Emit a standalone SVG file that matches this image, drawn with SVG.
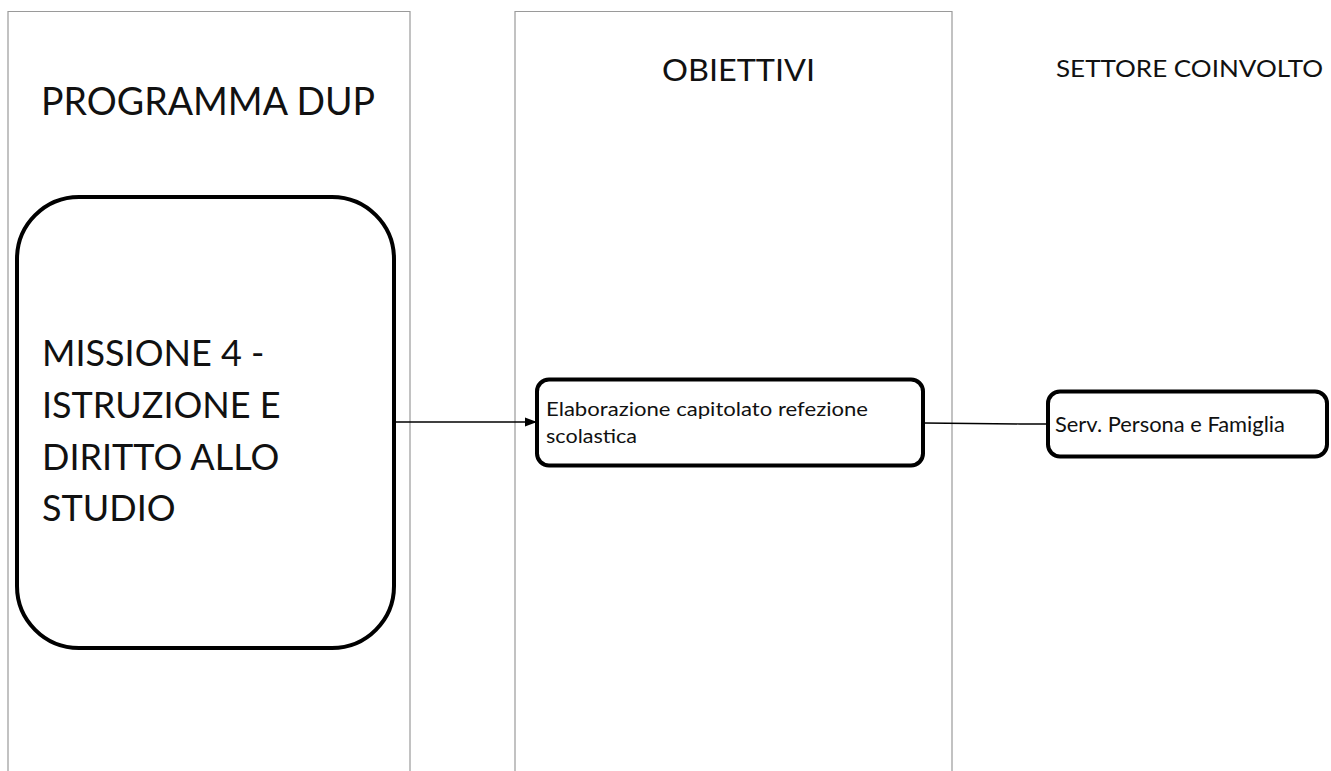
<svg xmlns="http://www.w3.org/2000/svg" width="1331" height="771" viewBox="0 0 1331 771">
  <style>
    .lane { fill: #ffffff; stroke: #9a9a9a; stroke-width: 1.2; }
    .box { fill: #ffffff; stroke: #000000; stroke-width: 4; }
    .t { font-family: Lato, "Open Sans", "Liberation Sans", sans-serif; fill: #111111; }
    .conn { stroke: #000000; stroke-width: 1.3; fill: none; }
  </style>
  <defs>
    <marker id="arrow" markerWidth="12" markerHeight="12" refX="11" refY="6" orient="auto" markerUnits="userSpaceOnUse">
      <path d="M0,1.5 L12,6 L0,10.5 Z" fill="#000000"/>
    </marker>
  </defs>
  <rect width="1331" height="771" fill="#ffffff"/>

  <!-- swimlanes -->
  <g id="lane-programma">
    <path class="lane" d="M8,772 L8,11.5 L410,11.5 L410,772"/>
    <text class="t" x="208" y="115" font-size="38" text-anchor="middle" textLength="334" lengthAdjust="spacingAndGlyphs">PROGRAMMA DUP</text>
  </g>
  <g id="lane-obiettivi">
    <path class="lane" d="M515,772 L515,11.5 L952,11.5 L952,772"/>
    <text class="t" x="738.5" y="81" font-size="30" text-anchor="middle" textLength="153" lengthAdjust="spacingAndGlyphs">OBIETTIVI</text>
  </g>
  <g id="lane-settore">
    <text class="t" x="1189.5" y="77" font-size="24" text-anchor="middle" textLength="267" lengthAdjust="spacingAndGlyphs">SETTORE COINVOLTO</text>
  </g>

  <!-- connectors -->
  <g id="connectors">
    <line class="conn" x1="395" y1="422" x2="536" y2="422" marker-end="url(#arrow)"/>
    <path class="conn" d="M924,423 L1020,424 L1047,424" stroke="#333333"/>
  </g>

  <g id="node-missione">
    <rect class="box" x="17" y="197" width="377" height="451" rx="62" ry="62"/>
    <text class="t" font-size="36">
      <tspan x="42" y="366">MISSIONE 4 -</tspan>
      <tspan x="42" y="418">ISTRUZIONE E</tspan>
      <tspan x="42" y="470">DIRITTO ALLO</tspan>
      <tspan x="42" y="521">STUDIO</tspan>
    </text>
  </g>

  <g id="node-elaborazione">
    <rect class="box" x="537" y="379.5" width="386" height="86" rx="12" ry="12"/>
    <text class="t" font-size="19.5">
      <tspan x="546" y="416" textLength="322" lengthAdjust="spacingAndGlyphs">Elaborazione capitolato refezione</tspan>
      <tspan x="546" y="443" textLength="91" lengthAdjust="spacingAndGlyphs">scolastica</tspan>
    </text>
  </g>

  <g id="node-servizio">
    <rect class="box" x="1048" y="391.5" width="279" height="65" rx="12" ry="12"/>
    <text class="t" x="1055" y="432" font-size="20.5" textLength="230" lengthAdjust="spacingAndGlyphs">Serv. Persona e Famiglia</text>
  </g>
</svg>
